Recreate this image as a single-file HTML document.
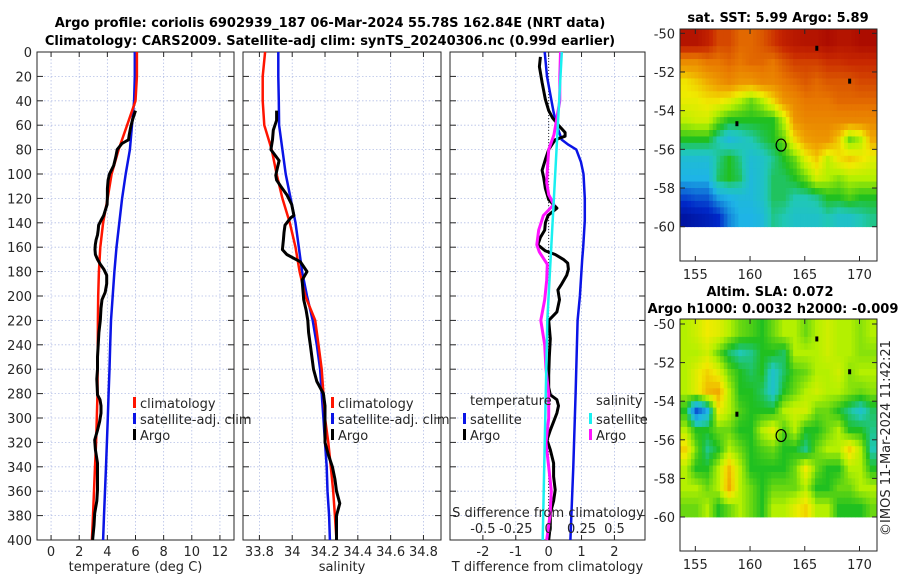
<!DOCTYPE html>
<html><head><meta charset="utf-8"><style>
html,body{margin:0;padding:0;background:#fff;width:900px;height:580px;overflow:hidden}
svg text{font-family:"DejaVu Sans","Liberation Sans",sans-serif;font-size:13px;fill:#262626}
</style></head><body>
<svg id="fig" width="900" height="580" viewBox="0 0 900 580" xmlns="http://www.w3.org/2000/svg">
<text x="330" y="27" text-anchor="middle" style="font-weight:bold;fill:#000">Argo profile: coriolis 6902939_187 06-Mar-2024 55.78S 162.84E (NRT data)</text>
<text x="330" y="45" text-anchor="middle" style="font-weight:bold;fill:#000">Climatology: CARS2009. Satellite-adj clim: synTS_20240306.nc (0.99d earlier)</text>
<text x="778" y="22" text-anchor="middle" style="font-weight:bold;fill:#000">sat. SST: 5.99 Argo: 5.89</text>
<text x="770" y="296" text-anchor="middle" style="font-weight:bold;fill:#000">Altim. SLA: 0.072</text>
<text x="773" y="313" text-anchor="middle" style="font-weight:bold;fill:#000">Argo h1000: 0.0032 h2000: -0.009</text>
<text transform="translate(890,438) rotate(-90)" text-anchor="middle">©IMOS 11-Mar-2024 11:42:21</text>
</svg>
<script>
// ---------- data ----------
const depthTicks=[0,20,40,60,80,100,120,140,160,180,200,220,240,260,280,300,320,340,360,380,400];
const stdDepths=[0,20,40,60,80,100,120,140,160,180,200,220,240,260,280,300,320,340,360,380,400];
const tempTicks=[0,2,4,6,8,10,12];
const salTicks=[33.8,34,34.2,34.4,34.6,34.8];
const tdiffTicks=[-2,-1,0,1,2];
const sdiffTicks=[-0.5,-0.25,0,0.25,0.5];
const tempClim=[6.1,6.1,6.0,5.4,4.8,4.3,4.02,3.7,3.5,3.4,3.35,3.33,3.32,3.31,3.3,3.25,3.2,3.12,3.05,2.98,2.9];
const tempSat=[5.95,5.95,5.9,5.75,5.6,5.3,5.05,4.85,4.65,4.5,4.38,4.26,4.2,4.15,4.09,4.03,3.97,3.9,3.83,3.76,3.7];
const argoTDepths=[48,55,62,68,72,75,80,86,93,100,105,112,118,125,130,134,138,142,146,150,154,158,162,166,170,174,178,183,190,197,203,210,220,230,240,250,260,268,275,281,285,290,296,303,310,318,326,337,348,359,368,378,388,400];
const argoTemp=[6.0,5.8,5.65,5.55,5.5,5.04,4.7,4.6,4.45,4.15,4.05,4.0,4.0,3.98,3.85,3.74,3.55,3.38,3.35,3.3,3.2,3.14,3.12,3.15,3.3,3.5,3.75,3.95,3.95,3.85,3.62,3.55,3.5,3.4,3.35,3.3,3.3,3.25,3.28,3.3,3.48,3.55,3.55,3.45,3.3,3.1,3.15,3.3,3.3,3.3,3.25,3.1,3.05,2.95];
const salClim=[33.835,33.82,33.82,33.83,33.875,33.905,33.94,33.985,34.02,34.045,34.08,34.14,34.16,34.18,34.19,34.2,34.22,34.235,34.25,34.26,34.27];
const salSat=[33.915,33.915,33.918,33.92,33.94,33.96,33.99,34.02,34.04,34.06,34.09,34.125,34.15,34.17,34.18,34.19,34.2,34.21,34.215,34.225,34.23];
const argoSDepths=[48,56,64,72,80,89,95,101,105,110,117,125,134,136,142,148,154,162,166,172,180,187,195,203,212,220,230,240,250,260,270,280,290,300,310,320,330,340,350,360,370,380,390,400];
const argoSal=[33.905,33.905,33.885,33.88,33.87,33.92,33.91,33.9,33.905,33.93,33.967,33.997,34.01,33.99,33.956,33.95,33.946,33.94,33.967,34.05,34.09,34.06,34.065,34.07,34.085,34.095,34.1,34.11,34.12,34.13,34.15,34.19,34.2,34.2,34.2,34.2,34.22,34.245,34.26,34.27,34.29,34.27,34.27,34.27];
const tdSatDepths=[0,20,48,58,72,76,80,90,100,120,138,160,170,200,220,280,340,400];
const tdSat=[-0.12,-0.05,0.14,0.22,0.4,0.6,0.84,0.98,1.06,1.1,1.1,1.05,1.02,0.95,0.88,0.82,0.75,0.66];
const tdArgoDepths=[4,12,25,39,48,54,60,66,69,72,76,80,88,97,103,112,121,128,134,140,146,152,158,163,166,170,173,178,183,190,195,203,213,220,235,250,265,275,281,285,290,296,303,310,318,326,337,348,359,368,378,388,400];
const tdArgo=[-0.25,-0.28,-0.2,-0.1,0.0,0.12,0.3,0.5,0.5,0.2,0.1,0.0,-0.1,-0.2,-0.15,-0.1,0.0,0.25,-0.02,-0.1,-0.12,-0.25,-0.33,-0.1,0.2,0.45,0.58,0.6,0.55,0.4,0.28,0.33,0.25,0.0,0.05,0.02,0.0,0.0,0.05,0.25,0.3,0.25,0.15,0.05,-0.05,0.05,0.15,0.15,0.2,0.15,0.05,0.05,0.0];
const sdSatDepths=[0,220,400];
const sdSat=[0.1,-0.01,-0.045];
const sdArgoDepths=[0,20,40,56,68,80,97,107,117,125,134,146,158,164,174,187,203,220,240,260,280,300,320,340,360,380,400];
const sdArgo=[0.09,0.085,0.085,0.06,0.04,0.0,-0.01,-0.015,0.0,0.04,-0.04,-0.076,-0.09,-0.07,-0.01,-0.015,-0.03,-0.06,-0.03,-0.02,0.0,0.0,-0.02,0.0,0.02,0.01,-0.015];
const latTicks=[-50,-52,-54,-56,-58,-60];
const lonTicks=[155,160,165,170];
const sstGrid=[
[0.95,0.95,0.92,0.86,0.86,0.82,0.82,0.84,0.88,0.92,0.94,0.95,0.95,0.97,0.95,0.95,0.97,0.97],
[0.76,0.76,0.8,0.8,0.82,0.8,0.82,0.82,0.8,0.84,0.87,0.87,0.87,0.89,0.89,0.9,0.9,0.9],
[0.63,0.66,0.7,0.74,0.77,0.74,0.74,0.77,0.77,0.8,0.82,0.84,0.82,0.84,0.84,0.84,0.86,0.86],
[0.61,0.61,0.63,0.63,0.6,0.55,0.5,0.55,0.64,0.74,0.77,0.8,0.8,0.8,0.82,0.82,0.82,0.82],
[0.56,0.58,0.58,0.5,0.45,0.45,0.45,0.45,0.45,0.56,0.74,0.77,0.77,0.77,0.77,0.77,0.77,0.77],
[0.45,0.45,0.45,0.38,0.32,0.35,0.38,0.42,0.45,0.5,0.64,0.72,0.74,0.74,0.66,0.5,0.55,0.7],
[0.33,0.33,0.33,0.4,0.45,0.4,0.33,0.35,0.4,0.45,0.5,0.6,0.66,0.56,0.63,0.66,0.63,0.6],
[0.3,0.3,0.3,0.42,0.45,0.42,0.32,0.35,0.42,0.42,0.45,0.5,0.58,0.55,0.52,0.55,0.55,0.55],
[0.18,0.2,0.2,0.28,0.3,0.32,0.32,0.35,0.42,0.42,0.38,0.38,0.4,0.45,0.45,0.48,0.45,0.45],
[0.08,0.1,0.12,0.15,0.25,0.3,0.3,0.32,0.4,0.38,0.35,0.35,0.35,0.38,0.35,0.35,0.38,0.4]];
const slaGrid=[
[0.55,0.58,0.62,0.6,0.55,0.5,0.48,0.45,0.5,0.55,0.55,0.5,0.55,0.58,0.55,0.55,0.52,0.55],
[0.55,0.55,0.58,0.5,0.42,0.38,0.4,0.45,0.45,0.42,0.55,0.55,0.55,0.58,0.55,0.55,0.52,0.52],
[0.55,0.6,0.65,0.6,0.5,0.45,0.42,0.45,0.35,0.42,0.48,0.5,0.55,0.55,0.58,0.52,0.55,0.55],
[0.55,0.6,0.68,0.7,0.55,0.45,0.45,0.42,0.35,0.45,0.5,0.55,0.58,0.55,0.55,0.52,0.5,0.52],
[0.45,0.2,0.3,0.62,0.55,0.48,0.45,0.45,0.45,0.55,0.58,0.58,0.5,0.5,0.45,0.4,0.35,0.42],
[0.55,0.45,0.45,0.5,0.5,0.45,0.45,0.55,0.6,0.48,0.55,0.45,0.45,0.5,0.55,0.45,0.45,0.4],
[0.65,0.5,0.4,0.45,0.55,0.5,0.45,0.48,0.5,0.45,0.45,0.4,0.5,0.55,0.55,0.65,0.55,0.38],
[0.55,0.45,0.45,0.55,0.68,0.55,0.45,0.45,0.45,0.45,0.5,0.62,0.5,0.45,0.45,0.55,0.55,0.45],
[0.55,0.55,0.5,0.55,0.7,0.55,0.5,0.45,0.5,0.5,0.5,0.55,0.45,0.45,0.5,0.5,0.55,0.55],
[0.5,0.5,0.55,0.45,0.5,0.55,0.5,0.45,0.55,0.55,0.6,0.65,0.55,0.55,0.45,0.45,0.45,0.5]];
const argoLon=162.84, argoLat=-55.78;

// ---------- helpers ----------
const NS="http://www.w3.org/2000/svg";
const svg=document.getElementById('fig');
function mk(tag,attrs,parent){const e=document.createElementNS(NS,tag);for(const k in attrs)e.setAttribute(k,attrs[k]);(parent||svg).appendChild(e);return e;}
const Y0=52,Y1=540;
const yD=d=>Y0+d/400*(Y1-Y0);
function lin(d0,d1,r0,r1){return v=>r0+(v-d0)/(d1-d0)*(r1-r0);}
const P=[{x0:37,x1:234},{x0:243,x1:441},{x0:450,x1:645}];
const xT=lin(-1,13,37,234), xS=lin(33.7,34.907,243,441), xTD=lin(-3,2.93,450,645);
const xSD=v=>xTD(v*4);

function profileAxes(i,ticks,fx,label,name){
  const p=P[i];
  const g=mk('g',{});
  
  
  ticks.forEach(t=>{const x=fx(t);
    const l=mk('line',{x1:x,x2:x,y1:Y0,y2:Y1,stroke:'#b4bfe6','stroke-width':0.8,'stroke-dasharray':'1.5,2'},g);
    
    mk('line',{x1:x,x2:x,y1:Y1,y2:Y1-5,stroke:'#262626'},g);
    mk('line',{x1:x,x2:x,y1:Y0,y2:Y0+5,stroke:'#262626'},g);
    const tx=mk('text',{x:x,y:Y1+16,'text-anchor':'middle'},g);tx.textContent=String(t);
    
  });
  depthTicks.forEach(d=>{const y=yD(d);
    const l=mk('line',{x1:p.x0,x2:p.x1,y1:y,y2:y,stroke:'#b4bfe6','stroke-width':0.8,'stroke-dasharray':'1.5,2'},g);
    
    mk('line',{x1:p.x0,x2:p.x0+6,y1:y,y2:y,stroke:'#262626'},g);
    mk('line',{x1:p.x1,x2:p.x1-6,y1:y,y2:y,stroke:'#262626'},g);
    if(i===0){const tx=mk('text',{x:p.x0-5,y:y+5,'text-anchor':'end'},g);tx.textContent=String(d);
      }
  });
  const b=mk('rect',{x:p.x0,y:Y0,width:p.x1-p.x0,height:Y1-Y0,fill:'none',stroke:'#262626','stroke-width':1},g);
  
  const xl=mk('text',{x:(p.x0+p.x1)/2,y:571,'text-anchor':'middle'},g);xl.textContent=label;
  
}
function series(depths,vals,fx,color,w,name){
  const pts=depths.map((d,k)=>fx(vals[k]).toFixed(1)+','+yD(d).toFixed(1)).join(' ');
  const l=mk('polyline',{points:pts,fill:'none',stroke:color,'stroke-width':w,'stroke-linejoin':'round'});
  
  
}
function legendEntry(x,y,color,label,name){
  const m=mk('rect',{x:x,y:y-11,width:3,height:11,fill:color});
  
  
  const t=mk('text',{x:x+7,y:y});t.textContent=label;
  
  
}

// ---------- panels ----------
profileAxes(0,tempTicks,xT,'temperature (deg C)','temperature-panel');
profileAxes(1,salTicks,xS,'salinity','salinity-panel');
profileAxes(2,tdiffTicks,xTD,'T difference from climatology','difference-panel');
const zl=mk('line',{x1:xTD(0),x2:xTD(0),y1:Y0,y2:Y1,stroke:'#333','stroke-width':1,'stroke-dasharray':'1,2'});


series(stdDepths,tempSat,xT,'#0a14e6',2.5,'temp-satellite-line');
series(stdDepths,tempClim,xT,'#ff1400',2.5,'temp-climatology-line');
series(argoTDepths,argoTemp,xT,'#000',3,'temp-argo-line');
series(stdDepths,salSat,xS,'#0a14e6',2.5,'sal-satellite-line');
series(stdDepths,salClim,xS,'#ff1400',2.5,'sal-climatology-line');
series(argoSDepths,argoSal,xS,'#000',3,'sal-argo-line');
series(tdSatDepths,tdSat,xTD,'#0a14e6',2.5,'tdiff-satellite-line');
series(tdArgoDepths,tdArgo,xTD,'#000',3,'tdiff-argo-line');
series(sdArgoDepths,sdArgo,xSD,'#ff14ff',3,'sdiff-argo-line');
series(sdSatDepths,sdSat,xSD,'#19f0f0',2.5,'sdiff-satellite-line');

legendEntry(133,408,'#ff1400','climatology','temp-legend-climatology');
legendEntry(133,424,'#0a14e6','satellite-adj. clim','temp-legend-satellite');
legendEntry(133,440,'#000','Argo','temp-legend-argo');
legendEntry(331,408,'#ff1400','climatology','sal-legend-climatology');
legendEntry(331,424,'#0a14e6','satellite-adj. clim','sal-legend-satellite');
legendEntry(331,440,'#000','Argo','sal-legend-argo');
let tt=mk('text',{x:470,y:405});tt.textContent='temperature';

legendEntry(463,424,'#0a14e6','satellite','diff-legend-temp-satellite');
legendEntry(463,440,'#000','Argo','diff-legend-temp-argo');
tt=mk('text',{x:596,y:405});tt.textContent='salinity';

legendEntry(589,424,'#19f0f0','satellite','diff-legend-sal-satellite');
legendEntry(589,440,'#ff14ff','Argo','diff-legend-sal-argo');
tt=mk('text',{x:548,y:517,'text-anchor':'middle'});tt.textContent='S difference from climatology';

sdiffTicks.forEach(v=>{const t=mk('text',{x:xSD(v),y:533,'text-anchor':'middle'});t.textContent=String(v);
  
  });

// ---------- maps ----------
const stops=[[0,[0,0,120]],[0.15,[0,40,200]],[0.3,[30,180,230]],[0.38,[32,200,180]],[0.45,[32,192,32]],[0.55,[180,240,0]],[0.62,[240,235,0]],[0.7,[240,170,0]],[0.8,[232,120,0]],[0.9,[200,40,0]],[1,[160,0,0]]];
function cmap(v){v=Math.max(0,Math.min(1,v));for(let i=1;i<stops.length;i++){if(v<=stops[i][0]){const a=stops[i-1],b=stops[i],f=(v-a[0])/(b[0]-a[0]);
  return 'rgb('+a[1].map((c,k)=>Math.round(c+(b[1][k]-c)*f)).join(',')+')';}}return 'rgb(160,0,0)';}
function sample(grid,r,c){
  const R=grid.length,C=grid[0].length;
  r=Math.max(0,Math.min(R-1,r));c=Math.max(0,Math.min(C-1,c));
  const r0=Math.floor(r),c0=Math.floor(c),r1=Math.min(R-1,r0+1),c1=Math.min(C-1,c0+1),fr=r-r0,fc=c-c0;
  return (grid[r0][c0]*(1-fc)+grid[r0][c1]*fc)*(1-fr)+(grid[r1][c0]*(1-fc)+grid[r1][c1]*fc)*fr;
}
function map(box,grid,name){
  const xL=lin(153.6,171.6,box.x0,box.x1), yL=lin(-50,-60,box.yTop,box.yBot);
  const g=mk('g',{});
  
  
  const SUB=3, R=grid.length, C=grid[0].length;
  const top=box.y0+0.5;
  for(let r=0;r<R*SUB;r++){
    for(let c=0;c<C*SUB;c++){
      const v=sample(grid,(r+0.5)/SUB-0.5,(c+0.5)/SUB-0.5);
      const x=xL(153.6+c/SUB), x2=xL(153.6+(c+1)/SUB);
      let y=yL(-50-r/SUB); const y2=yL(-50-(r+1)/SUB);
      if(r===0) y=top;
      const cell=mk('rect',{x:x.toFixed(2),y:y.toFixed(2),width:(x2-x+0.4).toFixed(2),height:(y2-y+0.4).toFixed(2),fill:cmap(v)},g);
      
      
    }
  }
  const circ=mk('ellipse',{cx:xL(argoLon),cy:yL(argoLat),rx:5,ry:6,fill:'none',stroke:'#000','stroke-width':1.2},g);
  
  [[166.1,-50.8],[169.1,-52.5],[158.8,-54.7]].forEach(p=>{const s=mk('rect',{x:xL(p[0])-1.5,y:yL(p[1])-3,width:3,height:5,fill:'#000'},g);
    });
  const fr=mk('rect',{x:box.x0,y:box.y0,width:box.x1-box.x0,height:box.y1-box.y0,fill:'none',stroke:'#262626'},g);
  
  latTicks.forEach(l=>{const y=yL(l);
    mk('line',{x1:box.x0,x2:box.x0+5,y1:y,y2:y,stroke:'#262626'},g);
    mk('line',{x1:box.x1,x2:box.x1-5,y1:y,y2:y,stroke:'#262626'},g);
    const t=mk('text',{x:box.x0-5,y:y+5,'text-anchor':'end'},g);t.textContent=String(l);
    });
  lonTicks.forEach(l=>{const x=xL(l);
    mk('line',{x1:x,x2:x,y1:box.y1,y2:box.y1-5,stroke:'#262626'},g);
    mk('line',{x1:x,x2:x,y1:box.y0,y2:box.y0+5,stroke:'#262626'},g);
    const t=mk('text',{x:x,y:box.y1+18,'text-anchor':'middle'},g);t.textContent=String(l);
    });
}
map({x0:680,x1:877,y0:29,y1:261,yTop:33.3,yBot:226.7},sstGrid,'sst-map');
map({x0:680,x1:877,y0:319,y1:551,yTop:324,yBot:517},slaGrid,'sla-map');
</script>
</body></html>
